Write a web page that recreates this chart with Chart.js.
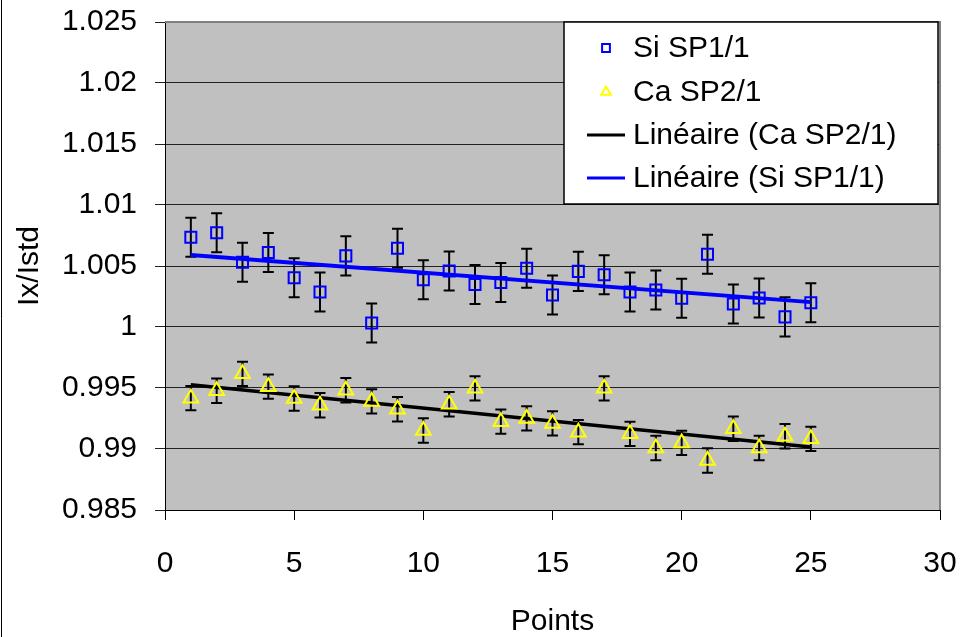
<!DOCTYPE html>
<html>
<head>
<meta charset="utf-8">
<script src="https://cdn.jsdelivr.net/npm/chart.js@4.4.1/dist/chart.umd.min.js"></script>
<style>
  html, body { margin: 0; padding: 0; background: #fff; }
</style>
</head>
<body>
<canvas id="chart" width="966" height="637"></canvas>
<script>
const points = [1, 2, 3, 4, 5, 6, 7, 8, 9, 10, 11, 12, 13, 14, 15, 16, 17, 18, 19, 20, 21, 22, 23, 24, 25];
const siValues = [1.00735, 1.00773, 1.0053, 1.0061, 1.00403, 1.00287, 1.00583, 1.00033, 1.00646, 1.00387,
  1.00459, 1.00348, 1.00365, 1.00481, 1.00262, 1.00456, 1.00428, 1.00287, 1.00304, 1.00235,
  1.00597, 1.00188, 1.00238, 1.00083, 1.00199];
const caValues = [0.99417, 0.99478, 0.99616, 0.99511, 0.99414, 0.99359, 0.99481, 0.9939, 0.99326, 0.99152,
  0.99367, 0.99497, 0.99224, 0.99251, 0.9921, 0.99138, 0.99497, 0.99124, 0.99008, 0.9905,
  0.98906, 0.99166, 0.99008, 0.99105, 0.99083];
const siErr = [0.0016, 0.0016, 0.0016, 0.0016, 0.0016, 0.0016, 0.0016, 0.0016, 0.0016, 0.0016,
  0.0016, 0.0016, 0.0016, 0.0016, 0.0016, 0.0016, 0.0016, 0.0016, 0.0016, 0.0016,
  0.0016, 0.0016, 0.0016, 0.0016, 0.0016];
const caErr = [0.001, 0.001, 0.001, 0.001, 0.001, 0.001, 0.001, 0.001, 0.001, 0.001,
  0.001, 0.001, 0.001, 0.001, 0.001, 0.001, 0.001, 0.001, 0.001, 0.001,
  0.001, 0.001, 0.001, 0.001, 0.001];
const xTicks = [0, 5, 10, 15, 20, 25, 30];
const yTicks = [0.985, 0.99, 0.995, 1, 1.005, 1.01, 1.015, 1.02, 1.025];

const FONT = "'Liberation Sans', Arial, sans-serif";

// least squares line, like the Excel "Linéaire" trendline
function linear(xs, ys) {
  const n = xs.length;
  const mx = xs.reduce((a, b) => a + b, 0) / n;
  const my = ys.reduce((a, b) => a + b, 0) / n;
  let sxy = 0, sxx = 0;
  for (let i = 0; i < n; i++) {
    sxy += (xs[i] - mx) * (ys[i] - my);
    sxx += (xs[i] - mx) * (xs[i] - mx);
  }
  const b = sxy / sxx;
  const a = my - b * mx;
  const x0 = xs[0], x1 = xs[n - 1];
  return [{ x: x0, y: a + b * x0 }, { x: x1, y: a + b * x1 }];
}

const toXY = (ys) => points.map((x, i) => ({ x: x, y: ys[i] }));

const plotBackground = {
  id: "plotBackground",
  beforeDraw(chart) {
    const { ctx, chartArea: a } = chart;
    ctx.save();
    ctx.fillStyle = "#c0c0c0";
    ctx.fillRect(a.left, a.top, a.right - a.left, a.bottom - a.top);
    ctx.restore();
  },
  afterDraw(chart) {
    const { ctx, chartArea: a } = chart;
    ctx.save();
    ctx.strokeStyle = "#808080";
    ctx.lineWidth = 2;
    ctx.beginPath();
    ctx.moveTo(a.left, a.top);
    ctx.lineTo(a.right, a.top);
    ctx.lineTo(a.right, a.bottom);
    ctx.stroke();
    // outer frame, left edge
    ctx.strokeStyle = "#000";
    ctx.lineWidth = 1;
    ctx.beginPath();
    ctx.moveTo(1.5, 0);
    ctx.lineTo(1.5, chart.height);
    ctx.stroke();
    ctx.restore();
  }
};

const errorBars = {
  id: "errorBars",
  beforeDatasetsDraw(chart) {
    const { ctx, scales: { x, y } } = chart;
    ctx.save();
    ctx.strokeStyle = "#000";
    ctx.lineWidth = 2;
    chart.data.datasets.forEach((ds) => {
      if (!ds.errors) return;
      ds.data.forEach((p, i) => {
        const px = x.getPixelForValue(p.x);
        const top = y.getPixelForValue(p.y + ds.errors[i]);
        const bot = y.getPixelForValue(p.y - ds.errors[i]);
        ctx.beginPath();
        ctx.moveTo(px, top);
        ctx.lineTo(px, bot);
        ctx.moveTo(px - 5.5, top);
        ctx.lineTo(px + 5.5, top);
        ctx.moveTo(px - 5.5, bot);
        ctx.lineTo(px + 5.5, bot);
        ctx.stroke();
      });
    });
    ctx.restore();
  }
};

const boxLegend = {
  id: "boxLegend",
  afterDraw(chart) {
    const { ctx } = chart;
    const left = 564, top = 22, right = 938, bottom = 204;
    ctx.save();
    ctx.fillStyle = "#fff";
    ctx.fillRect(left, top, right - left, bottom - top);
    ctx.strokeStyle = "#000";
    ctx.lineWidth = 1.5;
    ctx.strokeRect(left, top, right - left, bottom - top);
    const order = [0, 1, 2, 3];
    const rows = [48, 92, 135, 178];
    ctx.font = "30px " + FONT;
    ctx.textBaseline = "middle";
    ctx.textAlign = "left";
    order.forEach((di, r) => {
      const ds = chart.data.datasets[di];
      const yy = rows[r];
      if (ds.showLine) {
        ctx.strokeStyle = ds.borderColor;
        ctx.lineWidth = 3;
        ctx.beginPath();
        ctx.moveTo(587, yy);
        ctx.lineTo(625, yy);
        ctx.stroke();
      } else {
        ctx.fillStyle = "rgba(0,0,0,0)";
        ctx.strokeStyle = ds.borderColor;
        ctx.lineWidth = 2;
        Chart.helpers.drawPoint(ctx, {
          pointStyle: ds.pointStyle, radius: 5.5, borderWidth: 2
        }, 606, yy);
      }
      ctx.fillStyle = "#000";
      ctx.fillText(ds.label, 633, yy + 1);
    });
    ctx.restore();
  }
};

new Chart(document.getElementById("chart").getContext("2d"), {
  type: "scatter",
  data: {
    datasets: [
      {
        label: "Si SP1/1",
        data: toXY(siValues),
        errors: siErr,
        pointStyle: "rect",
        pointRadius: 7.8,
        pointBorderWidth: 2,
        borderColor: "#0000ff",
        backgroundColor: "rgba(0,0,0,0)",
        order: 0
      },
      {
        label: "Ca SP2/1",
        data: toXY(caValues),
        errors: caErr,
        pointStyle: "triangle",
        pointRadius: 8.5,
        pointBorderWidth: 2,
        borderColor: "#ffff00",
        backgroundColor: "rgba(0,0,0,0)",
        order: 0
      },
      {
        label: "Linéaire (Ca SP2/1)",
        data: linear(points, caValues),
        showLine: true,
        borderColor: "#000000",
        borderWidth: 3.5,
        pointRadius: 0,
        order: 1
      },
      {
        label: "Linéaire (Si SP1/1)",
        data: linear(points, siValues),
        showLine: true,
        borderColor: "#0000ff",
        borderWidth: 4,
        pointRadius: 0,
        order: 1
      }
    ]
  },
  options: {
    responsive: false,
    animation: false,
    devicePixelRatio: 1,
    layout: { padding: { top: 22, right: 26, left: 0, bottom: 0 } },
    plugins: {
      legend: { display: false },
      tooltip: { enabled: false }
    },
    scales: {
      x: {
        type: "linear",
        min: 0,
        max: 30,
        afterBuildTicks: (s) => { s.ticks = xTicks.map((v) => ({ value: v })); },
        afterFit: (s) => {
          s.height = 127;
          s.paddingLeft = 0;
          s.paddingRight = 0;
        },
        ticks: { color: "#000", font: { size: 30, family: FONT }, padding: 26 },
        grid: { drawOnChartArea: false, color: "#000", tickLength: 10 },
        border: { color: "#000", width: 1 },
        title: { display: true, text: "Points", color: "#000", font: { size: 30, family: FONT }, padding: { top: 0, bottom: -3 } }
      },
      y: {
        type: "linear",
        min: 0.985,
        max: 1.025,
        afterBuildTicks: (s) => { s.ticks = yTicks.map((v) => ({ value: v })); },
        afterFit: (s) => {
          s.width = 165;
          s.paddingTop = 0;
          s.paddingBottom = 0;
        },
        ticks: {
          color: "#000",
          font: { size: 30, family: FONT },
          padding: 18,
          callback: (v) => String(+v.toFixed(3))
        },
        grid: { color: "#222", tickLength: 10 },
        border: { color: "#000", width: 1 },
        title: { display: true, text: "Ix/Istd", color: "#000", font: { size: 30, family: FONT }, padding: { top: 12, bottom: 0 } }
      }
    }
  },
  plugins: [plotBackground, errorBars, boxLegend]
});
</script>
</body>
</html>
